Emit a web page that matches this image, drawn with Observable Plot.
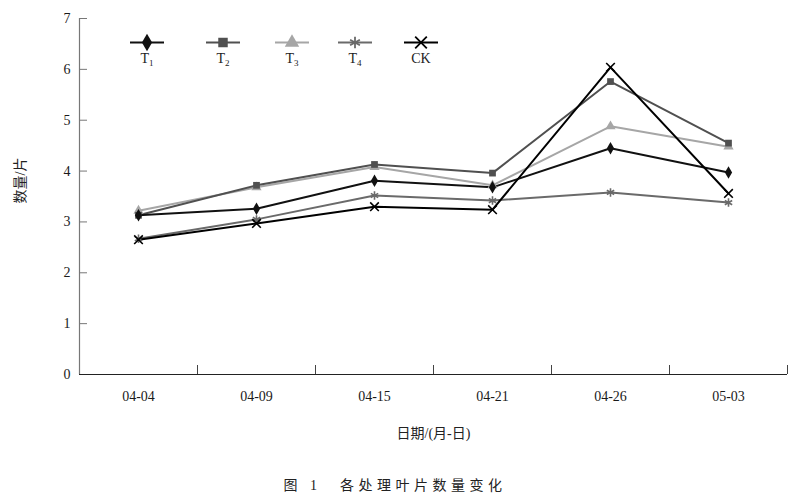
<!DOCTYPE html>
<html><head><meta charset="utf-8">
<script src="https://cdn.jsdelivr.net/npm/d3@7"></script>
<script src="https://cdn.jsdelivr.net/npm/@observablehq/plot@0.6"></script>
<style>
body{margin:0;background:#fff;font-family:"Liberation Serif","Noto Sans CJK SC",serif;}
#chart svg{display:block;}
#cap{width:790px;text-align:center;font-size:14px;letter-spacing:4.5px;height:24px;line-height:24px;margin-top:4px;color:#222;font-family:"Liberation Serif","Noto Sans CJK SC",serif;}
</style></head>
<body>
<div id="chart"></div>
<div id="cap">图 1　各处理叶片数量变化</div>
<script>
const dates = ["04-04","04-09","04-15","04-21","04-26","05-03"];
const T1 = [3.13,3.26,3.81,3.68,4.45,3.97];
const T2 = [3.13,3.72,4.13,3.96,5.76,4.55];
const T3 = [3.22,3.68,4.08,3.72,4.88,4.48];
const T4 = [2.67,3.05,3.52,3.42,3.58,3.38];
const CK = [2.65,2.97,3.30,3.24,6.04,3.56];
const names = ["T1","T2","T3","T4","CK"];
const legendLabels = [["T","1"],["T","2"],["T","3"],["T","4"],["CK",""]];
const yTicks = [0,1,2,3,4,5,6,7];

const colors = ["#111111","#505050","#a6a6a6","#6a6a6a","#000000"];
const symbols = ["diamond","square","triangle","asterisk","times"];

const seriesVals = [T1,T2,T3,T4,CK];
const rows = [];
names.forEach((n,k)=>seriesVals[k].forEach((v,i)=>rows.push({name:n,i,v})));
const drawOrder = ["T4","T3","T2","T1","CK"];
const ordered = drawOrder.flatMap(n=>rows.filter(r=>r.name===n));
const filled = new Set(["diamond","square","triangle"]);
const symOf = n => symbols[names.indexOf(n)];

const serif = '"Liberation Serif","Noto Sans CJK SC",serif';
const plot = Plot.plot({
  width:798, height:470,
  marginLeft:79, marginRight:11, marginTop:18, marginBottom:96,
  style:{fontFamily:serif, color:"#1a1a1a", background:"#fff"},
  x:{type:"linear", domain:[-0.5,5.5], axis:null},
  y:{domain:[0,7], axis:null},
  color:{domain:names, range:colors},
  symbol:{domain:names, range:symbols},
  marks:[
    Plot.ruleX([-0.5],{stroke:"#777", strokeWidth:1.2}),
    Plot.axisY({ticks:yTicks, label:null, tickSize:-8, tickFormat:()=>"", stroke:"#777"}),
    Plot.axisY({ticks:yTicks, label:null, tickSize:0, tickPadding:9, fontSize:14, fontFamily:serif, tickFormat:d=>d}),
    Plot.ruleY([0],{stroke:"#222", strokeWidth:1.2}),
    Plot.axisX({ticks:[0.5,1.5,2.5,3.5,4.5,5.5], label:null, tickSize:-9, tickFormat:()=>"", stroke:"#444"}),
    Plot.axisX({ticks:[0,1,2,3,4,5], label:null, tickSize:0, tickPadding:17, tickFormat:i=>dates[i], fontSize:14, fontFamily:serif}),
    Plot.text(["日期/(月-日)"],{frameAnchor:"bottom", dy:63, fontSize:14, fill:"#222", fontFamily:serif}),
    Plot.text(["数量/片"],{frameAnchor:"left", dx:-59, dy:7, rotate:-90, fontSize:14, fill:"#222", fontFamily:serif}),
    Plot.line(ordered,{x:"i", y:"v", z:"name", stroke:"name", strokeWidth:2}),
    Plot.dot(ordered.filter(r=>filled.has(symOf(r.name))),{x:"i", y:"v", symbol:"name", fill:"name", r:3.8}),
    Plot.dot(ordered.filter(r=>!filled.has(symOf(r.name))),{x:"i", y:"v", symbol:"name", stroke:"name", fill:"none", r:4, strokeWidth:1.6})
  ]
});
document.getElementById("chart").appendChild(plot);

// legend
const svg = d3.select(plot);
const lx = [147,223,292,355,421];
const lg = svg.append("g");
names.forEach((n,k)=>{
  const g = lg.append("g").attr("transform",`translate(${lx[k]},42.5)`);
  g.append("line").attr("x1",-17).attr("x2",17).attr("stroke",colors[k]).attr("stroke-width",2.2);
  const sym = {diamond:d3.symbolDiamond,square:d3.symbolSquare,triangle:d3.symbolTriangle,asterisk:d3.symbolAsterisk,times:d3.symbolTimes}[symbols[k]];
  const p = g.append("path").attr("d",d3.symbol(sym, 90)());
  if (filled.has(symbols[k])) p.attr("fill",colors[k]); else p.attr("fill","none").attr("stroke",colors[k]).attr("stroke-width",1.8);
  const t = lg.append("text").attr("x",lx[k]).attr("y",63).attr("text-anchor","middle")
    .attr("font-size",14).attr("fill","#222").attr("font-family",'"Liberation Serif",serif');
  t.append("tspan").text(legendLabels[k][0]);
  if (legendLabels[k][1]) t.append("tspan").attr("font-size",9).attr("dy",3).text(legendLabels[k][1]);
});
</script>
</body></html>
